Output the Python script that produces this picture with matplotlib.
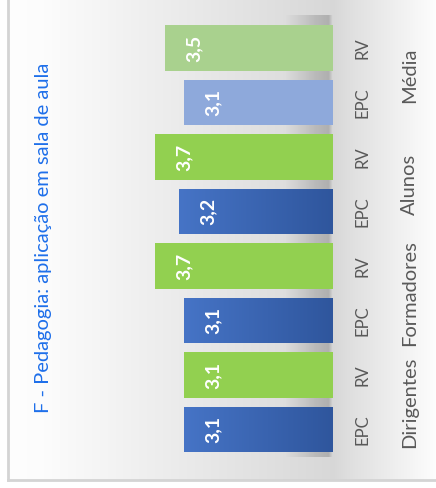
import numpy as np
import matplotlib.pyplot as plt
from matplotlib.colors import to_rgb

# valores por grupo (EPC / RV)
grupos = ["Dirigentes", "Formadores", "Alunos", "Média"]
series = ["EPC", "RV"]
valores = [3.1, 3.1, 3.1, 3.7, 3.2, 3.7, 3.1, 3.5]
etiquetas = ["3,1", "3,1", "3,1", "3,7", "3,2", "3,7", "3,1", "3,5"]
titulo = "F - Pedagogia: aplicação em sala de aula"

cores = ["grad", "#92D050", "grad", "#92D050", "grad", "#92D050", "#8EA9DB", "#A9D18E"]
fonte = ["Lato", "DejaVu Sans"]

W, H = 436, 488
fig = plt.figure(figsize=(W / 100, H / 100), dpi=100)
fig.patch.set_facecolor("white")
ax = fig.add_axes([8 / W, 8 / H, (W - 8) / W, (H - 8) / H])

# escala: 48 px por unidade, zero em x=333 px, barras a cada 54.5 px
x0 = (333 - 8) / 48
x1 = -(436 - 333) / 48
y0 = (429.5 - 480) / 54.5
y1 = 429.5 / 54.5
alt = 0.835

# fundo em degradê
px = np.arange(8, 436)
g = np.interp(px, [8, 40, 333, 345, 436], [0.995, 0.99, 0.845, 0.87, 0.995])
fundo = np.repeat(g[None, :, None], 3, axis=2)
ax.imshow(fundo, extent=(0, 1, 0, 1), transform=ax.transAxes, aspect="auto", zorder=0)

# sombra junto à base das barras
sx = np.linspace(1.0, 0, 60)
alfa = np.interp(sx, [0, 0.08, 0.35, 1.0], [0.0, 0.32, 0.25, 0.0])
sombra = np.zeros((1, 60, 4))
sombra[..., :3] = 0.35
sombra[0, :, 3] = alfa
ax.imshow(sombra, extent=(1.0, 0, -0.5, 7.6), aspect="auto", zorder=1, interpolation="bilinear")

pos = np.arange(len(valores))
c1, c2 = np.array(to_rgb("#4674C6")), np.array(to_rgb("#2F569D"))
grad = np.linspace(0, 1, 256)[:, None] * (c2 - c1) + c1
grad = grad[None, :, :]

for i, (v, c) in enumerate(zip(valores, cores)):
    if c == "grad":
        b = ax.barh(pos[i], v, height=alt, color="none", zorder=2)[0]
        im = ax.imshow(grad, extent=(v, 0, pos[i] - alt / 2, pos[i] + alt / 2),
                       aspect="auto", zorder=2)
        im.set_clip_path(b)
    else:
        ax.barh(pos[i], v, height=alt, color=c, zorder=2)
    ax.text(v - 0.6, pos[i], etiquetas[i], rotation=90, ha="center", va="center",
            color="white", fontsize=14, fontweight="bold", family=fonte, zorder=3)
    ax.text(-0.62, pos[i], series[i % 2], rotation=90, ha="center", va="center",
            color="#595959", fontsize=12, family=fonte)

for k, nome in enumerate(grupos):
    ax.text(-1.6, 2 * k + 0.5, nome, rotation=90, ha="center", va="center",
            color="#595959", fontsize=14.5, family=fonte)

ax.text(6.03, 3.51, titulo, rotation=90, ha="center", va="center",
        color="#1E6FEA", fontsize=14.5, family=fonte)

ax.set_xlim(x0, x1)
ax.set_ylim(y0, y1)
ax.set_xticks([])
ax.set_yticks([])
for s in ["top", "right"]:
    ax.spines[s].set_visible(False)
for s in ["left", "bottom"]:
    ax.spines[s].set_color("#D4D4D4")
    ax.spines[s].set_linewidth(2)

fig.savefig("out.png", dpi=100)
